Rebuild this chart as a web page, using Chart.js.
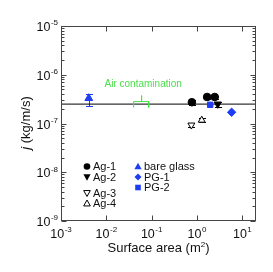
<!DOCTYPE html>
<html><head><meta charset="utf-8">
<script src="https://cdn.jsdelivr.net/npm/chart.js@4/dist/chart.umd.min.js"></script>
<style>html,body{margin:0;padding:0;background:#fff}#wrap{width:273px;height:272px}</style>
</head><body><div id="wrap"><canvas id="c" width="273" height="272"></canvas></div>
<script>
// ---- data ----
const xTicks = [1e-3, 1e-2, 1e-1, 1e0, 1e1];
const xTickExp = ['-3', '-2', '-1', '0', '1'];
const yTicks = [1e-9, 1e-8, 1e-7, 1e-6, 1e-5];
const yTickExp = ['-9', '-8', '-7', '-6', '-5'];

const ag1X = [0.77, 1.67, 2.46];
const ag1Y = [2.73e-7, 3.5e-7, 3.5e-7];
const ag1Lo = [2.45e-7, 3.25e-7, 3.2e-7];
const ag1Hi = [3.0e-7, 3.75e-7, 3.75e-7];

const ag2X = [2.87];
const ag2Y = [2.5e-7];
const ag2Lo = [2.2e-7];
const ag2Hi = [2.75e-7];

const ag3X = [0.75];
const ag3Y = [9.3e-8];
const ag3Lo = [8.3e-8];
const ag3Hi = [1.03e-7];

const ag4X = [1.27];
const ag4Y = [1.17e-7];
const ag4Lo = [1.05e-7];
const ag4Hi = [1.3e-7];

const bareX = [0.0041];
const bareY = [3.3e-7];
const bareLo = [2.34e-7];
const bareHi = [3.94e-7];

const pg1X = [5.8];
const pg1Y = [1.7e-7];

const pg2X = [1.95];
const pg2Y = [2.42e-7];

const refLineX = [1e-3, 20];
const refLineY = [2.5e-7, 2.5e-7];

const bracketX = [0.040, 0.040, 0.060, 0.060, 0.060, 0.086, 0.086];
const bracketY = [2.13e-7, 2.82e-7, 2.82e-7, 3.75e-7, 2.82e-7, 2.82e-7, 2.13e-7];
const airLabel = 'Air contamination';
const airLabelX = 0.065;
const airLabelY = 6.3e-7;

const legendLeft = ['Ag-1', 'Ag-2', 'Ag-3', 'Ag-4'];
const legendRight = ['bare glass', 'PG-1', 'PG-2'];

const BLUE = '#1f3cf5';
const GREEN = '#4ade4a';
const FONT = '"Liberation Sans", Arial, sans-serif';

const pts = (xs, ys) => xs.map((x, i) => ({x: x, y: ys[i]}));

const errSets = [
  {x: ag1X, lo: ag1Lo, hi: ag1Hi, c: '#000'},
  {x: ag2X, lo: ag2Lo, hi: ag2Hi, c: '#000'},
  {x: ag3X, lo: ag3Lo, hi: ag3Hi, c: '#000'},
  {x: ag4X, lo: ag4Lo, hi: ag4Hi, c: '#000'},
  {x: bareX, lo: bareLo, hi: bareHi, c: BLUE}
];

function drawShape(ctx, style, x, y, r, fill, stroke, rot) {
  ctx.save();
  ctx.translate(x, y);
  if (rot) ctx.rotate(rot * Math.PI / 180);
  ctx.beginPath();
  if (style === 'circle') ctx.arc(0, 0, r, 0, Math.PI * 2);
  else if (style === 'triangle') { ctx.moveTo(0, -r); ctx.lineTo(r * 0.95, r * 0.7); ctx.lineTo(-r * 0.95, r * 0.7); ctx.closePath(); }
  else if (style === 'rectRot') { ctx.moveTo(0, -r); ctx.lineTo(r, 0); ctx.lineTo(0, r); ctx.lineTo(-r, 0); ctx.closePath(); }
  else if (style === 'rect') { ctx.rect(-r, -r, 2 * r, 2 * r); }
  if (fill) { ctx.fillStyle = fill; ctx.fill(); }
  if (stroke) { ctx.strokeStyle = stroke; ctx.lineWidth = 1; ctx.stroke(); }
  ctx.restore();
}

function drawPow(ctx, x, y, exp, align, base, sup) {
  ctx.save();
  ctx.textBaseline = 'alphabetic';
  ctx.font = base + 'px ' + FONT;
  const w1 = ctx.measureText('10').width;
  ctx.font = sup + 'px ' + FONT;
  const w2 = ctx.measureText(exp).width;
  const tw = w1 + w2 + 0.5;
  let sx = align === 'right' ? x - tw : align === 'center' ? x - tw / 2 : x;
  ctx.fillStyle = '#111';
  ctx.textAlign = 'left';
  ctx.font = base + 'px ' + FONT;
  ctx.fillText('10', sx, y);
  ctx.font = sup + 'px ' + FONT;
  ctx.fillText(exp, sx + w1 + 0.5, y - base * 0.45);
  ctx.restore();
}

const deco = {
  id: 'deco',
  beforeDatasetsDraw(chart) {
    const ctx = chart.ctx, xs = chart.scales.x, ys = chart.scales.y;
    ctx.save();
    ctx.lineWidth = 1;
    errSets.forEach(s => {
      ctx.strokeStyle = s.c;
      s.x.forEach((xv, i) => {
        const px = Math.round(xs.getPixelForValue(xv)) + 0.5;
        const p1 = Math.round(ys.getPixelForValue(s.lo[i])) + 0.5;
        const p2 = Math.round(ys.getPixelForValue(s.hi[i])) + 0.5;
        ctx.beginPath();
        ctx.moveTo(px, p1); ctx.lineTo(px, p2);
        ctx.moveTo(px - 3.5, p1); ctx.lineTo(px + 3.5, p1);
        ctx.moveTo(px - 3.5, p2); ctx.lineTo(px + 3.5, p2);
        ctx.stroke();
      });
    });
    ctx.restore();
  },
  afterDraw(chart) {
    const ctx = chart.ctx, xs = chart.scales.x, ys = chart.scales.y;
    const a = chart.chartArea;
    ctx.save();
    // frame
    ctx.strokeStyle = '#444';
    ctx.lineWidth = 1;
    const L = Math.round(a.left) + 0.5, R = Math.round(a.right) - 0.5;
    const T = Math.round(a.top) + 0.5, B = Math.round(a.bottom) - 0.5;
    ctx.strokeRect(L, T, R - L, B - T);
    // y ticks
    ctx.beginPath();
    for (let e = -9; e < -5; e++) {
      for (let m = 1; m <= 9; m++) {
        const v = m * Math.pow(10, e);
        const py = Math.round(ys.getPixelForValue(v)) + 0.5;
        const len = m === 1 ? 5 : 3;
        ctx.moveTo(L, py); ctx.lineTo(L + len, py);
        ctx.moveTo(R, py); ctx.lineTo(R - len, py);
      }
    }
    xTicks.forEach(v => {
      const px = Math.round(xs.getPixelForValue(v)) + 0.5;
      ctx.moveTo(px, B); ctx.lineTo(px, B - 5);
      ctx.moveTo(px, T); ctx.lineTo(px, T + 5);
    });
    ctx.stroke();
    // tick labels
    xTicks.forEach((v, i) => {
      const px = xs.getPixelForValue(v);
      drawPow(ctx, px, a.bottom + 17, xTickExp[i], 'center', 12.5, 8);
    });
    yTicks.forEach((v, i) => {
      const py = ys.getPixelForValue(v);
      drawPow(ctx, a.left - 3, py + 5, yTickExp[i], 'right', 12.5, 8);
    });
    // x title
    ctx.fillStyle = '#111';
    ctx.font = '13px ' + FONT;
    ctx.textBaseline = 'alphabetic';
    ctx.textAlign = 'left';
    const t1 = 'Surface area (m', t2 = '2', t3 = ')';
    const w1 = ctx.measureText(t1).width, w3 = ctx.measureText(t3).width;
    ctx.font = '8px ' + FONT;
    const w2 = ctx.measureText(t2).width;
    let sx = (a.left + a.right) / 2 - (w1 + w2 + w3) / 2;
    const by = 252;
    ctx.font = '13px ' + FONT; ctx.fillText(t1, sx, by);
    ctx.font = '8px ' + FONT; ctx.fillText(t2, sx + w1, by - 5.5);
    ctx.font = '13px ' + FONT; ctx.fillText(t3, sx + w1 + w2, by);
    // y title
    ctx.save();
    ctx.translate(30, 123);
    ctx.rotate(-Math.PI / 2);
    ctx.font = 'italic 13px ' + FONT;
    const j = 'j', rest = ' (kg/m/s)';
    const wj = ctx.measureText(j).width;
    ctx.font = '13px ' + FONT;
    const wr = ctx.measureText(rest).width;
    const s0 = -(wj + wr) / 2;
    ctx.font = 'italic 13px ' + FONT; ctx.fillText(j, s0, 0);
    ctx.font = '13px ' + FONT; ctx.fillText(rest, s0 + wj, 0);
    ctx.restore();
    // air contamination label
    ctx.fillStyle = GREEN;
    ctx.font = '10px ' + FONT;
    ctx.textAlign = 'center';
    ctx.textBaseline = 'middle';
    ctx.fillText(airLabel, xs.getPixelForValue(airLabelX), ys.getPixelForValue(airLabelY));
    // legend
    ctx.font = '11px ' + FONT;
    ctx.textAlign = 'left';
    ctx.fillStyle = '#111';
    const lx = 87, ly = [166.5, 177, 193, 203.5];
    const lStyles = [['circle', '#000', null, 0, 3.3], ['triangle', '#000', null, 180, 3.8], ['triangle', null, '#000', 180, 3.5], ['triangle', null, '#000', 0, 3.5]];
    legendLeft.forEach((t, i) => {
      const st = lStyles[i];
      drawShape(ctx, st[0], lx, ly[i], st[4], st[1], st[2], st[3]);
      ctx.fillStyle = '#111';
      ctx.fillText(t, lx + 6, ly[i] + 0.5);
    });
    const rx = 138, ry = [166.5, 177, 187.5];
    const rStyles = [['triangle', 0, 3.8], ['rectRot', 0, 3.5], ['rect', 0, 2.8]];
    legendRight.forEach((t, i) => {
      const st = rStyles[i];
      drawShape(ctx, st[0], rx, ry[i], st[2], BLUE, null, st[1]);
      ctx.fillStyle = '#111';
      ctx.fillText(t, rx + 6, ry[i] + 0.5);
    });
    ctx.restore();
  }
};

new Chart(document.getElementById('c'), {
  type: 'scatter',
  data: {
    datasets: [
      {data: pts(refLineX, refLineY), showLine: true, borderColor: '#000', borderWidth: 1, pointRadius: 0, order: 10},
      {data: pts(bracketX, bracketY), showLine: true, borderColor: GREEN, borderWidth: 1, pointRadius: 0, order: 9},
      {data: pts(ag1X, ag1Y), pointStyle: 'circle', pointRadius: 3.8, backgroundColor: '#000', borderColor: '#000'},
      {data: pts(ag2X, ag2Y), pointStyle: 'triangle', rotation: 180, pointRadius: 4.2, backgroundColor: '#000', borderColor: '#000'},
      {data: pts(ag3X, ag3Y), pointStyle: 'triangle', rotation: 180, pointRadius: 4, backgroundColor: '#fff', borderColor: '#000', borderWidth: 1},
      {data: pts(ag4X, ag4Y), pointStyle: 'triangle', pointRadius: 4, backgroundColor: '#fff', borderColor: '#000', borderWidth: 1},
      {data: pts(bareX, bareY), pointStyle: 'triangle', pointRadius: 4.5, backgroundColor: BLUE, borderColor: BLUE},
      {data: pts(pg1X, pg1Y), pointStyle: 'rectRot', pointRadius: 4.2, backgroundColor: BLUE, borderColor: BLUE},
      {data: pts(pg2X, pg2Y), pointStyle: 'rect', pointRadius: 3.8, backgroundColor: BLUE, borderColor: BLUE}
    ]
  },
  options: {
    responsive: false,
    animation: false,
    events: [],
    layout: {padding: {left: 61, right: 17, top: 26, bottom: 51}},
    plugins: {legend: {display: false}, tooltip: {enabled: false}},
    scales: {
      x: {type: 'logarithmic', min: 1e-3, max: 20, display: false},
      y: {type: 'logarithmic', min: 1e-9, max: 1e-5, display: false}
    }
  },
  plugins: [deco]
});
</script>
</body></html>
